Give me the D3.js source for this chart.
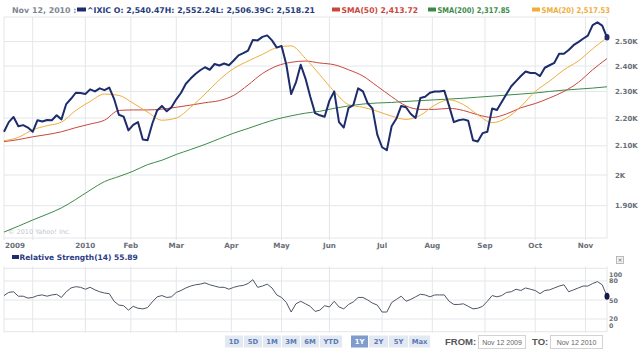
<!DOCTYPE html>
<html><head><meta charset="utf-8">
<script src="https://cdn.jsdelivr.net/npm/d3@7"></script>
<style>body{margin:0;background:#fff;} svg{display:block;font-family:"DejaVu Sans",Verdana,sans-serif;}</style>
</head><body><svg id="c" width="640" height="351"></svg>
<script>
// ^IXIC closes, one value every 2 trading days, Nov 12 2009 .. Nov 12 2010
const closeValues = [2150,2185,2204,2170,2174,2165,2150,2192,2187,2193,2192,2210,2195,2252,2272,2295,2294,2290,2308,2300,
2312,2305,2315,2272,2212,2205,2155,2175,2185,2122,2120,2180,2228,2245,2225,2240,2270,2295,2330,2350,
2368,2383,2395,2385,2408,2402,2410,2403,2422,2443,2452,2463,2507,2505,2520,2526,2505,2475,2482,2405,
2290,2335,2405,2350,2280,2218,2210,2205,2265,2300,2185,2165,2238,2248,2312,2300,2255,2235,2140,2095,
2085,2170,2198,2245,2240,2215,2200,2275,2280,2295,2300,2300,2303,2245,2185,2192,2195,2190,2120,2115,
2145,2150,2235,2230,2260,2290,2320,2340,2360,2378,2372,2372,2360,2393,2403,2413,2450,2450,2465,2485,
2498,2512,2525,2570,2582,2568,2518];
// moving averages, one value every 6 trading days
const sma20Values = [2118,2130,2157,2172,2185,2228,2262,2290,2285,2255,2222,2192,2200,2240,2290,2345,2390,2420,2447,2475,
2482,2430,2365,2300,2250,2240,2225,2207,2195,2210,2248,2268,2250,2212,2183,2200,2243,2300,2340,2385,2420,2470,2517];
const sma50Values = [2115,2122,2132,2140,2150,2165,2178,2192,2228,2230,2230,2233,2240,2248,2257,2265,2285,2325,2370,2400,
2415,2420,2412,2405,2385,2360,2320,2280,2245,2232,2232,2236,2228,2212,2202,2215,2238,2254,2275,2300,2335,2385,2430];
const sma200Values = [1818,1836,1855,1873,1893,1920,1950,1978,1995,2013,2035,2050,2070,2087,2105,2125,2145,2162,2180,2196,
2208,2218,2225,2236,2245,2252,2256,2258,2262,2265,2268,2271,2274,2278,2282,2286,2290,2294,2300,2305,2309,2313,2318];
// Relative Strength (14), one value every 2 trading days
const rsiValues = [57,62,63,56,56,53,54,57,58,56,58,59,54,63,69,71,70,67,70,66,
63,61,60,48,42,41,34,40,37,36,38,47,55,57,54,55,62,65,69,72,
74,75,77,74,72,70,70,67,70,72,73,76,82,70,72,75,69,58,54,46,
31,44,48,44,40,32,34,41,39,48,39,36,43,47,54,54,50,45,42,31,
31,46,51,56,48,51,55,59,58,55,58,58,58,48,43,43,44,40,36,37,
40,48,57,55,57,62,63,67,65,69,67,65,60,65,66,69,72,74,63,66,
69,72,72,76,79,74,56];
const closeStep = 2, smaStep = 6, lastDay = 252;
const monthDays = [12,34,53,72,95,116,136,158,179,201,222,243];
const monthLabels = ["","2010","Feb","Mar","Apr","May","Jun","Jul","Aug","Sep","Oct","Nov"];
const startLabel = "2009";
const yTicks = [1900,2000,2100,2200,2300,2400,2500];
const yTickLabels = ["1.90K","2K","2.10K","2.20K","2.30K","2.40K","2.50K"];
const rsiTicks = [0,20,50,80,100];
const rangeButtons = ["1D","5D","1M","3M","6M","YTD","1Y","2Y","5Y","Max"];
const selectedRange = "1Y";
const quote = {date:"Nov 12, 2010 :", sym:"^IXIC", text:"O: 2,540.47H: 2,552.24L: 2,506.39C: 2,518.21"};
const smaLegend = [{name:"SMA(50)",val:"2,413.72",color:"#c8463c"},{name:"SMA(200)",val:"2,317.85",color:"#3d8a48"},{name:"SMA(20)",val:"2,517.53",color:"#f0ad3a"}];
const rsiLabel = "Relative Strength(14) 55.89";
const fromDate = "Nov 12 2009", toDate = "Nov 12 2010";

const svg = d3.select("#c");
const navy = "#1d2c6b", grid = "#e4e6ea";
const x = d3.scaleLinear().domain([0,lastDay]).range([4,607]);
const mTop = 17, mBot = 238;
const y = d3.scaleLog().domain([1800,2605]).range([mBot,mTop]);
const rTop = 268.3, rBot = 331.7;
const yr = d3.scaleLinear().domain([0,100]).range([rBot,rTop]);

// grids
const g = svg.append("g");
g.selectAll(".hg").data(yTicks).join("line").attr("x1",4).attr("x2",607)
 .attr("y1",d=>y(d)).attr("y2",d=>y(d)).attr("stroke",grid);
g.append("line").attr("x1",4).attr("x2",607).attr("y1",mTop).attr("y2",mTop).attr("stroke",grid);
g.append("line").attr("x1",4).attr("x2",607).attr("y1",mBot).attr("y2",mBot).attr("stroke",grid);
g.selectAll(".vg").data([0].concat(monthDays)).join("line").attr("x1",d=>x(d)).attr("x2",d=>x(d))
 .attr("y1",mTop).attr("y2",mBot+2).attr("stroke",grid);
g.append("line").attr("x1",607).attr("x2",607).attr("y1",mTop).attr("y2",mBot).attr("stroke",grid);
// rsi grid
g.selectAll(".rg").data(rsiTicks).join("line").attr("x1",4).attr("x2",607)
 .attr("y1",d=>yr(d)).attr("y2",d=>yr(d)).attr("stroke",grid);
g.selectAll(".rvg").data([0].concat(monthDays)).join("line").attr("x1",d=>x(d)).attr("x2",d=>x(d))
 .attr("y1",rTop-2).attr("y2",rBot+1).attr("stroke",grid);
g.append("line").attr("x1",607).attr("x2",607).attr("y1",rTop-2).attr("y2",rBot).attr("stroke",grid);

// copyright
svg.append("text").attr("x",8).attr("y",234).attr("font-size",6.5).attr("fill","#c4c8cf").text("© 2010 Yahoo! Inc.");

// lines
const lineC = d3.line().x((d,i)=>x(i*closeStep)).y(d=>y(d));
const lineS = d3.line().x((d,i)=>x(i*smaStep)).y(d=>y(d)).curve(d3.curveMonotoneX);
svg.append("path").attr("d",lineS(sma200Values)).attr("fill","none").attr("stroke","#3d8a48").attr("stroke-width",1);
svg.append("path").attr("d",lineS(sma50Values)).attr("fill","none").attr("stroke","#c8463c").attr("stroke-width",1);
svg.append("path").attr("d",lineS(sma20Values)).attr("fill","none").attr("stroke","#f0ad3a").attr("stroke-width",1);
svg.append("path").attr("d",lineC(closeValues)).attr("fill","none").attr("stroke",navy).attr("stroke-width",2).attr("stroke-linejoin","round");
const li = closeValues.length-1;
svg.append("ellipse").attr("cx",x(li*closeStep)).attr("cy",y(closeValues[li])).attr("rx",2.5).attr("ry",3.2).attr("fill",navy);

const lineR = d3.line().x((d,i)=>x(i*closeStep)).y(d=>yr(d));
svg.append("path").attr("d",lineR(rsiValues)).attr("fill","none").attr("stroke","#4f5565").attr("stroke-width",1);
const ri = rsiValues.length-1;
svg.append("ellipse").attr("cx",x(ri*closeStep)).attr("cy",yr(rsiValues[ri])).attr("rx",2.5).attr("ry",3.5).attr("fill","#121a4a");

// y axis labels
const axisFill = "#6a6f78";
svg.selectAll(".yl").data(yTicks).join("text").attr("x",615).attr("y",d=>y(d)+2.5)
 .attr("font-size",7).attr("font-weight","bold").attr("fill",axisFill).text((d,i)=>yTickLabels[i]);
// rsi labels
const rsiLabY = d=> d===100? yr(d)+8.5 : d===0 ? yr(d)-3.5 : d===20 ? yr(d)+1.8 : yr(d)+2.5;
svg.selectAll(".rl").data(rsiTicks).join("text").attr("x",609).attr("y",rsiLabY)
 .attr("font-size",6.3).attr("font-weight","bold").attr("fill",axisFill).text(d=>d);
// x labels
svg.selectAll(".xl").data(monthDays).join("text").attr("x",d=>x(d)).attr("y",247.5).attr("text-anchor","middle")
 .attr("font-size",7.2).attr("font-weight","bold").attr("fill",axisFill).text((d,i)=>monthLabels[i]);
svg.append("text").attr("x",5).attr("y",247.5).attr("font-size",7.2).attr("font-weight","bold").attr("fill",axisFill).text(startLabel);

// header
const hy = 12.5;
svg.append("text").attr("x",12).attr("y",hy).attr("font-size",7.9).attr("font-weight","bold").attr("fill","#7d8593").text(quote.date);
svg.append("rect").attr("x",77).attr("y",hy-5).attr("width",9).attr("height",4).attr("fill",navy);
svg.append("text").attr("x",87).attr("y",hy).attr("font-size",7.9).attr("font-weight","bold").attr("fill","#253a7c")
 .attr("textLength",228).attr("lengthAdjust","spacingAndGlyphs").text(quote.sym+" "+quote.text);
const legX = [332,428,532], legW=[86,82,78];
smaLegend.forEach((s,i)=>{
  svg.append("rect").attr("x",legX[i]).attr("y",hy-5).attr("width",8).attr("height",4).attr("fill",s.color);
  svg.append("text").attr("x",legX[i]+9.5).attr("y",hy).attr("font-size",7.9).attr("font-weight","bold").attr("fill",s.color)
   .attr("textLength",legW[i]-9.5).attr("lengthAdjust","spacingAndGlyphs").text(s.name+" "+s.val);
});

// rsi header
svg.append("rect").attr("x",12).attr("y",255).attr("width",7).attr("height",4).attr("fill",navy);
svg.append("text").attr("x",19.5).attr("y",260).attr("font-size",7.5).attr("font-weight","bold").attr("fill","#2a3a86").text(rsiLabel);
// close button
svg.append("rect").attr("x",616.5).attr("y",256.5).attr("width",7).attr("height",7).attr("fill","#f2f2f2").attr("stroke","#aaa").attr("stroke-width",0.8);
svg.append("text").attr("x",620).attr("y",262.2).attr("text-anchor","middle").attr("font-size",6).attr("fill","#666").text("×");

// range buttons
const bx = [225,244,263,282,301,320,351,369,389,409], bw=[18,18,18,18,18,22,17,19,19,21];
rangeButtons.forEach((b,i)=>{
  const sel = b===selectedRange;
  svg.append("rect").attr("x",bx[i]).attr("y",335.5).attr("width",bw[i]).attr("height",12).attr("fill",sel?"#7f9ccf":"#e3e9f2");
  svg.append("text").attr("x",bx[i]+bw[i]/2).attr("y",344.2).attr("text-anchor","middle").attr("font-size",6.8)
   .attr("font-weight","bold").attr("fill",sel?"#fff":"#5a78b3").text(b);
});
// date range
svg.append("text").attr("x",445).attr("y",345).attr("font-family","'Liberation Sans',Arial,sans-serif").attr("font-size",9.5).attr("font-weight","bold").attr("fill","#555").text("FROM:");
svg.append("rect").attr("x",478.5).attr("y",335.5).attr("width",47).attr("height",13).attr("fill","#fff").attr("stroke","#d3d3d3");
svg.append("text").attr("x",502).attr("y",344.5).attr("text-anchor","middle").attr("font-family","'Liberation Sans',Arial,sans-serif").attr("font-size",7).attr("fill","#666").text(fromDate);
svg.append("text").attr("x",532).attr("y",345).attr("font-family","'Liberation Sans',Arial,sans-serif").attr("font-size",9.5).attr("font-weight","bold").attr("fill","#555").text("TO:");
svg.append("rect").attr("x",550.5).attr("y",335.5).attr("width",52).attr("height",13).attr("fill","#fff").attr("stroke","#d3d3d3");
svg.append("text").attr("x",576.5).attr("y",344.5).attr("text-anchor","middle").attr("font-family","'Liberation Sans',Arial,sans-serif").attr("font-size",7).attr("fill","#666").text(toDate);
</script></body></html>
